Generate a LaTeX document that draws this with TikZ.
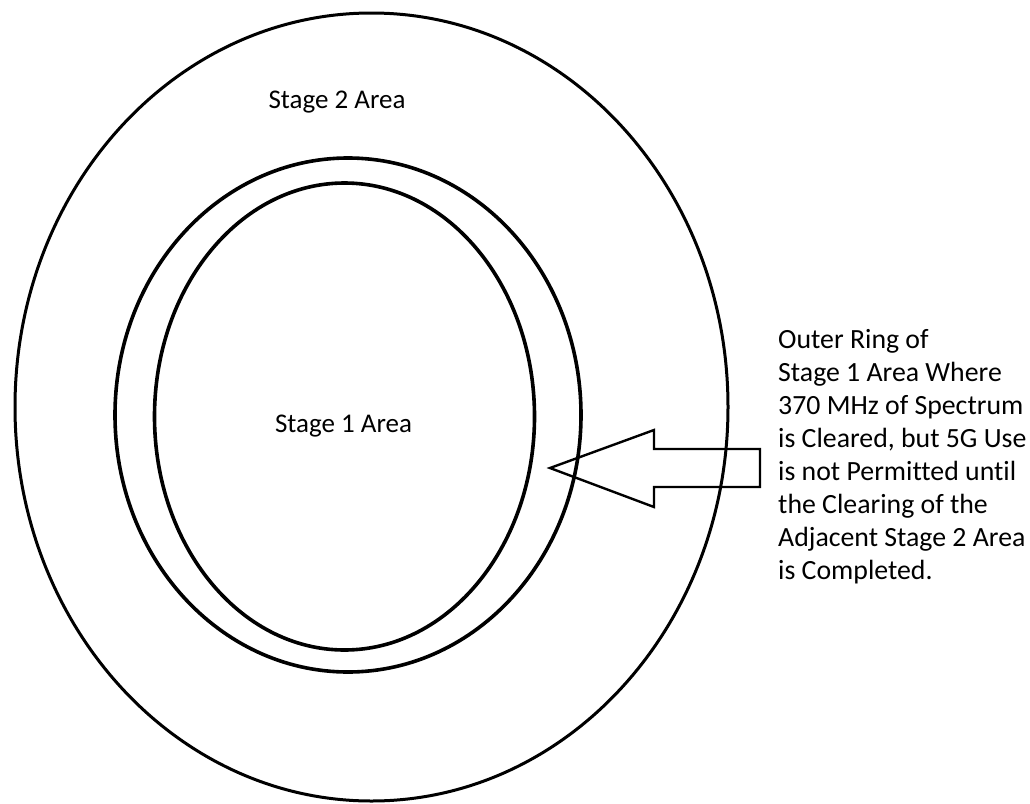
\documentclass[tikz,border=0pt]{standalone}
\usepackage{fontspec}
\setmainfont{Carlito}[Ligatures=NoCommon]
\usetikzlibrary{positioning}

\begin{document}
\begin{tikzpicture}[
  x=1pt, y=-1pt,
  ring/.style={draw, line width=3.6pt},
  txt/.style={font=\fontsize{27}{33}\selectfont, inner sep=0pt}
]
\useasboundingbox (0,0) rectangle (1030,803);
% the three areas
\draw[ring, line width=3pt] (371.5,407) ellipse [x radius=356.5, y radius=394];
\draw[ring] (348,415) ellipse [x radius=233, y radius=257];
\draw[ring] (344.5,416.5) ellipse [x radius=190, y radius=233.5];
\node[txt, anchor=base] (stagetwo) at (337,108) {Stage 2 Area};
\node[txt, anchor=base] (stageone) at (343.5,432) {Stage 1 Area};
% arrow and note
\draw[line width=2.4pt, line join=miter] (550,468) -- (654,430) -- (654,449) -- (760,449)
      -- (760,487) -- (654,487) -- (654,507) -- cycle;
\node[txt, font=\fontsize{27.8}{33}\selectfont, anchor=north west, align=left] (note) at (778,329)
  {Outer Ring of\\ Stage 1 Area Where\\ 370 MHz of Spectrum\\ is Cleared, but 5G Use\\
   is not Permitted until\\ the Clearing of the\\ Adjacent Stage 2 Area\\ is Completed.};
\end{tikzpicture}
\end{document}
